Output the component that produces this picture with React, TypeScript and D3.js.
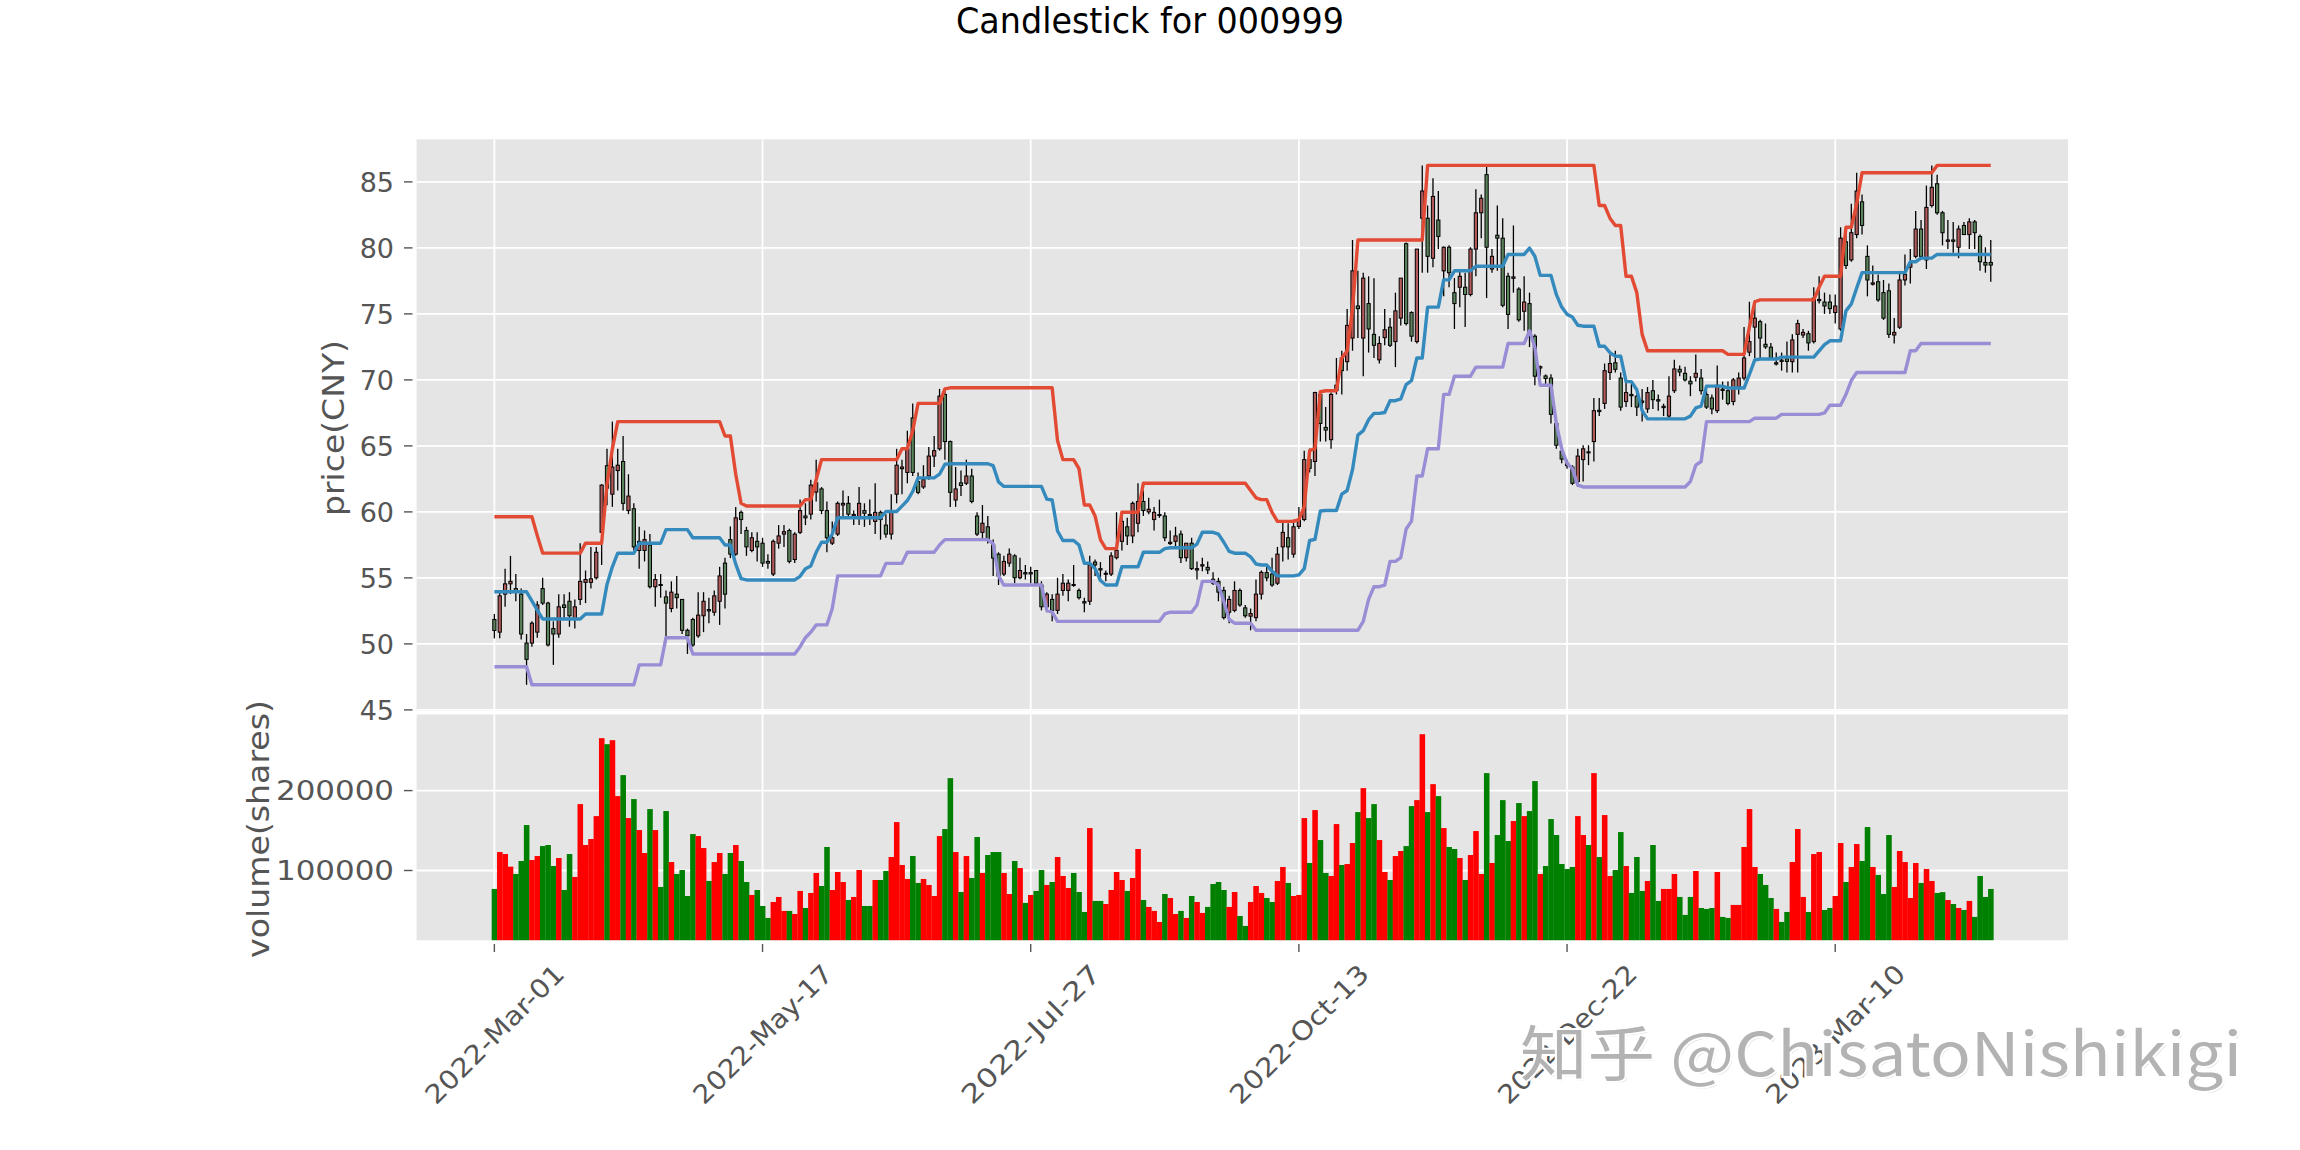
import React from 'react';
import * as d3 from 'd3';

const dateTickIndex = [0, 50, 100, 150, 200, 250];
const dateTickLabels = ['2022-Mar-01', '2022-May-17', '2022-Jul-27', '2022-Oct-13', '2022-Dec-22', '2023-Mar-10'];
const priceTicks = [45, 50, 55, 60, 65, 70, 75, 80, 85];
const volumeTicks = [100000, 200000];

const openPrice = [
  51.85,50.89,53.77,54.55,54.19,53.77,50.06,50.06,50.89,54.19,
  53.09,51.16,50.75,52.95,53.23,51.85,53.37,54.66,54.66,55.01,
  58.45,63.50,61.34,63.13,63.82,60.10,60.24,57.08,57.08,57.49,
  54.33,54.50,53.56,52.68,53.77,53.37,51.03,51.85,50.61,52.13,
  52.60,52.40,53.23,56.12,57.90,56.80,59.97,58.59,57.08,57.77,
  57.63,56.25,55.29,57.63,58.32,58.59,56.39,58.45,59.69,59.83,
  61.50,61.74,60.10,57.63,58.32,60.52,60.65,59.70,59.55,60.10,
  59.80,59.28,59.97,59.00,58.32,61.34,63.27,62.99,67.12,62.30,
  61.89,62.72,64.23,64.78,68.90,65.33,60.90,62.20,62.17,62.72,
  59.69,58.45,58.87,57.50,56.80,55.29,56.12,56.67,55.01,55.40,
  55.30,55.56,54.46,52.81,53.37,52.54,54.05,54.05,54.50,54.05,
  53.20,53.23,56.20,55.70,55.30,55.29,56.53,57.77,58.87,58.18,
  59.14,60.79,60.00,59.42,59.75,59.69,57.60,57.77,58.32,56.53,
  57.63,55.60,55.90,55.80,54.90,54.74,54.05,52.40,52.54,54.05,
  52.73,52.10,51.99,53.77,55.40,55.29,54.60,57.35,58.04,56.80,
  58.90,59.42,63.96,63.82,68.90,66.40,65.47,69.20,71.66,71.38,
  73.17,75.60,73.17,75.78,73.45,71.52,73.20,73.99,72.90,74.68,
  80.32,75.10,72.90,82.25,82.25,79.22,82.11,78.26,80.05,76.61,
  77.02,77.02,76.47,79.91,82.66,85.55,78.40,80.96,80.74,77.85,
  77.70,76.88,75.20,75.78,73.31,70.90,70.30,70.14,66.70,64.60,
  63.70,63.40,62.30,63.96,64.55,65.33,67.70,68.22,70.56,71.30,
  70.14,68.36,68.90,68.77,68.40,67.80,69.18,68.50,67.90,67.26,
  69.18,70.80,70.50,69.90,70.20,70.14,68.90,68.63,67.67,69.30,
  69.18,68.36,69.46,70.14,72.10,74.00,74.41,72.70,72.48,71.20,
  71.50,71.60,71.38,73.45,73.40,73.50,72.90,76.00,75.90,75.90,
  75.10,73.86,80.46,79.09,81.01,83.49,79.36,77.25,77.44,76.61,
  76.75,73.40,73.99,77.57,78.54,79.36,81.43,79.09,83.21,84.86,
  82.66,80.50,80.60,80.05,81.70,81.01,81.97,80.87,78.90,78.90
];

const highPrice = [
  52.27,54.05,55.70,56.67,55.29,54.19,50.75,51.71,53.23,55.01,
  53.20,51.71,53.77,53.77,53.92,53.37,57.63,55.56,57.35,57.35,
  62.10,64.78,66.84,64.78,65.75,62.85,60.65,58.87,58.59,58.32,
  55.29,55.29,54.05,54.74,55.15,53.40,51.16,51.99,53.92,53.92,
  53.50,54.05,55.84,56.53,58.90,60.38,60.10,58.87,58.45,58.45,
  58.04,56.80,57.90,59.00,59.00,58.73,58.45,60.93,60.65,62.44,
  63.96,61.88,60.79,59.28,60.79,61.62,61.20,60.10,61.89,60.65,
  60.93,62.17,60.10,59.83,61.34,64.78,63.96,66.15,68.22,62.99,
  63.54,64.92,65.75,69.32,69.40,65.40,63.40,63.13,63.96,63.27,
  59.97,60.52,59.69,57.90,56.94,56.67,57.22,56.80,56.53,55.98,
  55.84,55.60,54.74,53.92,53.77,55.01,55.29,54.88,55.98,54.19,
  53.50,56.67,56.39,56.20,55.56,56.94,59.97,59.97,59.55,60.79,
  62.17,61.62,61.07,60.38,60.93,59.97,58.59,58.87,58.59,57.63,
  58.04,56.25,56.53,56.25,55.42,55.01,54.33,53.64,54.74,54.19,
  52.95,52.68,54.88,55.56,55.84,56.53,57.35,59.28,59.14,59.42,
  60.38,64.64,64.80,69.10,69.18,67.94,69.04,71.66,72.21,75.37,
  80.60,78.26,78.12,77.85,77.71,73.31,75.37,74.68,76.61,77.71,
  80.40,75.20,79.91,86.25,83.21,85.27,84.31,80.10,80.20,77.71,
  78.26,78.12,80.05,84.45,84.04,86.20,79.91,83.21,82.25,78.12,
  81.70,77.02,77.85,76.61,73.45,71.10,70.42,70.42,67.26,65.05,
  63.96,63.54,64.78,65.05,65.05,68.63,68.63,71.24,71.93,72.21,
  70.56,69.87,69.73,69.32,69.32,69.46,70.00,68.90,68.20,70.28,
  71.52,71.10,71.00,70.28,71.93,70.83,69.18,68.90,71.10,69.87,
  69.87,70.14,70.56,74.00,75.92,76.06,74.55,74.27,72.80,72.07,
  72.07,72.90,73.45,74.55,73.86,73.72,77.02,77.85,76.61,76.47,
  76.47,81.56,81.29,83.35,85.69,84.04,80.19,78.67,77.99,77.57,
  77.30,74.68,78.26,79.50,79.91,82.80,82.11,84.72,86.25,85.55,
  82.80,82.11,81.97,81.70,81.97,82.25,82.11,81.01,80.05,80.60
];

const lowPrice = [
  50.42,50.42,52.81,53.77,53.23,50.34,46.90,49.79,50.47,52.95,
  49.80,48.41,50.47,51.85,51.30,51.16,52.95,53.09,54.19,54.88,
  55.98,60.50,60.38,61.62,60.10,59.83,57.08,55.70,56.25,54.19,
  52.81,53.50,50.47,52.40,52.68,50.75,49.24,49.79,50.47,50.89,
  51.57,52.13,51.44,52.68,56.50,56.67,58.32,56.67,56.94,56.25,
  55.84,55.70,55.15,57.22,57.35,56.10,56.12,58.32,59.00,59.42,
  60.79,59.83,56.94,57.49,58.18,59.69,59.69,59.00,59.00,58.87,
  59.00,58.32,57.90,58.04,57.90,60.65,61.34,62.17,62.72,61.34,
  61.75,62.44,63.40,64.64,63.96,60.38,60.38,61.20,62.03,60.65,
  58.18,57.90,57.60,55.15,54.46,55.15,55.84,54.60,54.90,54.88,
  54.60,54.50,52.54,52.40,51.71,52.27,53.64,53.23,54.33,53.37,
  52.40,52.95,55.15,54.90,54.74,55.15,56.40,57.08,57.49,57.63,
  58.45,59.69,59.83,58.59,59.55,57.77,57.49,57.40,56.12,56.25,
  55.60,54.88,55.50,55.29,54.46,53.23,51.85,51.57,52.40,52.81,
  51.99,51.03,51.71,53.37,54.74,54.33,54.46,56.25,56.39,56.53,
  58.70,59.30,62.99,62.72,65.33,65.33,64.78,68.90,68.90,70.70,
  72.21,73.17,70.28,72.07,71.66,71.24,72.62,72.50,70.97,74.13,
  74.13,72.90,72.76,78.12,78.12,78.54,79.91,76.33,77.02,73.86,
  75.51,74.00,76.33,77.85,80.74,76.20,78.12,78.26,75.51,73.86,
  76.61,74.41,73.72,72.48,69.59,70.28,69.59,66.70,64.78,63.68,
  63.27,62.03,61.89,62.30,63.54,63.82,67.26,67.80,70.00,70.56,
  67.67,67.94,67.94,67.26,66.84,67.50,67.80,67.67,67.26,67.10,
  69.00,70.28,69.87,68.77,69.87,68.90,67.80,67.39,67.50,68.50,
  68.08,68.08,68.90,69.95,71.80,71.66,71.66,72.35,71.52,71.10,
  70.70,70.56,70.56,70.56,73.17,72.21,72.76,75.78,75.00,75.00,
  74.27,73.72,78.40,78.95,80.74,81.01,76.33,77.15,75.92,74.55,
  73.17,72.76,73.86,77.15,77.30,79.22,79.22,78.40,83.07,82.52,
  80.19,79.91,79.64,79.22,81.01,79.91,79.91,78.26,78.12,77.44
];

const closePrice = [
  51.02,53.64,54.55,54.74,53.92,50.75,48.83,51.57,52.95,53.09,
  49.92,50.75,52.81,52.76,52.13,52.81,54.74,54.88,54.93,56.94,
  62.03,61.80,63.40,63.54,60.65,61.20,57.35,57.77,57.90,54.33,
  54.88,54.45,53.09,53.92,53.50,51.03,50.61,49.92,52.18,53.23,
  52.50,53.64,55.15,53.77,56.80,59.55,59.42,57.35,58.04,57.35,
  56.12,56.12,57.77,58.18,58.50,56.25,58.32,60.10,59.55,62.03,
  62.20,60.10,58.04,58.04,60.65,60.65,59.83,59.80,60.65,59.90,
  59.70,59.97,59.42,58.32,59.97,63.54,63.40,64.78,62.99,61.48,
  62.44,64.23,64.64,68.77,65.33,61.48,61.74,62.00,62.72,60.79,
  58.32,59.14,57.90,56.50,55.15,56.25,56.80,55.01,55.56,55.30,
  55.40,54.60,52.81,53.77,52.54,53.77,54.60,54.60,54.45,53.50,
  53.10,55.98,55.98,55.60,55.35,56.67,57.08,59.28,58.18,60.65,
  60.79,60.10,60.20,59.97,59.80,58.04,57.70,58.18,56.53,57.63,
  55.70,55.70,56.00,55.60,54.60,53.92,51.99,53.37,54.05,52.95,
  52.13,52.30,53.77,55.42,55.00,54.46,56.80,58.45,57.35,58.87,
  59.40,63.96,63.30,69.04,66.70,66.20,68.90,69.60,70.70,74.13,
  78.26,75.40,77.71,73.86,72.62,72.76,73.80,72.62,75.23,77.71,
  74.27,73.31,79.91,84.31,79.36,83.90,80.87,80.05,78.12,75.78,
  77.85,76.47,79.91,82.66,83.76,80.05,79.36,80.74,75.65,74.96,
  77.80,74.55,75.90,73.58,70.28,71.00,70.10,67.39,65.05,64.00,
  63.50,62.17,64.23,64.78,64.50,67.67,67.60,70.70,71.24,70.80,
  67.94,69.04,68.80,67.94,68.30,69.04,68.50,68.40,68.00,68.77,
  70.83,70.60,70.00,69.70,70.50,69.18,67.94,67.80,69.59,69.20,
  68.22,70.00,70.14,71.66,72.90,74.68,73.17,72.50,71.66,71.30,
  71.40,71.40,73.03,74.27,73.60,72.80,76.20,76.10,75.60,75.40,
  75.60,80.74,78.67,81.15,84.31,81.70,77.57,77.35,76.06,74.68,
  73.45,73.60,77.57,77.99,78.81,81.43,79.36,83.07,84.59,82.66,
  81.15,80.60,80.50,81.43,81.01,81.97,81.15,78.95,78.70,78.70
];

const volumeShares = [
  76900,123100,120600,104800,95600,111900,156900,113100,118100,130600,
  131900,105600,115600,75600,120600,91900,183100,131900,139400,168100,
  265600,258100,263100,193100,219400,165600,189400,150600,121900,176900,
  150600,79400,174400,110600,95600,100600,68100,145600,143100,128100,
  86900,110600,121900,95600,121900,131900,111900,85600,69400,75600,
  55600,40600,60600,66900,49400,49400,45600,74400,53100,71900,
  96900,80600,129400,75600,98100,85600,63100,66900,100600,55600,
  55600,88100,88100,99400,116900,160600,106900,89400,118100,84400,
  89400,81900,68100,143100,151900,215600,123100,73100,118100,90600,
  141900,96900,119400,123100,123100,96900,70600,111900,103100,59400,
  69400,74400,100600,81900,85600,116900,93100,78100,96900,73100,
  48100,153100,61900,61900,58100,75600,98100,88100,74400,90600,
  126900,63100,54400,49400,35600,70600,65600,45600,49400,40600,
  68100,60600,46900,54400,83100,85600,75600,54400,73100,43100,
  30600,60600,80600,71900,65600,60600,86900,104400,84400,68100,
  69400,165600,109400,175600,138100,96900,93100,158100,106900,108100,
  134400,173100,203100,165600,183100,138100,98100,88100,118100,124400,
  130600,180600,188100,270600,173100,208100,193100,153100,129400,126900,
  115600,88100,119400,149400,95600,221900,109400,144400,188100,136900,
  161900,184400,168100,174400,211900,95600,105600,164400,144400,108100,
  101900,104400,168100,144400,131900,221900,116900,169400,93100,100600,
  148100,105600,71900,116900,74400,86900,131900,61900,76900,76900,
  95600,66900,44400,66900,99400,53100,51900,53100,98100,41900,
  40600,56900,56900,129400,176900,104400,95600,81900,65600,51900,
  35600,48100,110600,151900,66900,48100,120600,123100,50600,53100,
  68100,134400,85600,104400,133100,111900,154400,104400,94400,70600,
  144400,79400,124400,110600,65600,109400,84400,101900,86900,71900,
  72900,63100,58100,53100,50600,61900,41900,93100,66900,76900
];

const upperBand = [
  59.63,59.63,59.63,59.63,59.63,59.63,59.63,59.63,58.20,56.88,
  56.88,56.88,56.88,56.88,56.88,56.88,56.88,57.63,57.63,57.63,
  57.63,62.10,64.78,66.84,66.84,66.84,66.84,66.84,66.84,66.84,
  66.84,66.84,66.84,66.84,66.84,66.84,66.84,66.84,66.84,66.84,
  66.84,66.84,66.84,65.75,65.75,62.85,60.65,60.45,60.45,60.45,
  60.45,60.45,60.45,60.45,60.45,60.45,60.45,60.45,60.93,60.93,
  62.44,63.96,63.96,63.96,63.96,63.96,63.96,63.96,63.96,63.96,
  63.96,63.96,63.96,63.96,63.96,63.96,64.78,64.78,66.15,68.22,
  68.22,68.22,68.22,68.22,69.32,69.40,69.40,69.40,69.40,69.40,
  69.40,69.40,69.40,69.40,69.40,69.40,69.40,69.40,69.40,69.40,
  69.40,69.40,69.40,69.40,69.40,65.40,63.96,63.96,63.96,63.27,
  60.52,60.52,59.69,57.90,57.22,57.22,57.22,59.97,59.97,59.97,
  59.97,62.17,62.17,62.17,62.17,62.17,62.17,62.17,62.17,62.17,
  62.17,62.17,62.17,62.17,62.17,62.17,62.17,62.17,62.17,62.17,
  62.17,61.62,61.07,60.93,60.93,59.97,59.28,59.28,59.28,59.28,
  59.42,60.38,64.64,64.80,69.10,69.18,69.18,69.18,71.66,72.21,
  75.37,80.60,80.60,80.60,80.60,80.60,80.60,80.60,80.60,80.60,
  80.60,80.60,80.60,80.60,86.25,86.25,86.25,86.25,86.25,86.25,
  86.25,86.25,86.25,86.25,86.25,86.25,86.25,86.25,86.25,86.25,
  86.25,86.25,86.25,86.25,86.25,86.25,86.25,86.25,86.25,86.25,
  86.25,86.25,86.25,86.25,86.25,86.25,83.21,83.21,82.25,81.70,
  81.70,77.85,77.85,76.61,73.45,72.21,72.21,72.21,72.21,72.21,
  72.21,72.21,72.21,72.21,72.21,72.21,72.21,72.21,72.21,72.21,
  71.93,71.93,71.93,71.93,74.00,75.92,76.06,76.06,76.06,76.06,
  76.06,76.06,76.06,76.06,76.06,76.06,76.06,77.02,77.85,77.85,
  77.85,77.85,81.56,81.56,83.35,85.69,85.69,85.69,85.69,85.69,
  85.69,85.69,85.69,85.69,85.69,85.69,85.69,85.69,85.69,86.25,
  86.25,86.25,86.25,86.25,86.25,86.25,86.25,86.25,86.25,86.25
];

const lowerBand = [
  48.27,48.27,48.27,48.27,48.27,48.27,48.27,46.90,46.90,46.90,
  46.90,46.90,46.90,46.90,46.90,46.90,46.90,46.90,46.90,46.90,
  46.90,46.90,46.90,46.90,46.90,46.90,46.90,48.41,48.41,48.41,
  48.41,48.41,50.47,50.47,50.47,50.47,50.47,49.24,49.24,49.24,
  49.24,49.24,49.24,49.24,49.24,49.24,49.24,49.24,49.24,49.24,
  49.24,49.24,49.24,49.24,49.24,49.24,49.24,49.79,50.47,50.89,
  51.44,51.44,51.44,52.68,55.15,55.15,55.15,55.15,55.15,55.15,
  55.15,55.15,55.15,56.10,56.10,56.10,56.10,56.94,56.94,56.94,
  56.94,56.94,56.94,57.49,57.90,57.90,57.90,57.90,57.90,57.90,
  57.90,57.90,57.90,57.60,55.15,54.46,54.46,54.46,54.46,54.46,
  54.46,54.46,54.46,52.54,52.40,51.71,51.71,51.71,51.71,51.71,
  51.71,51.71,51.71,51.71,51.71,51.71,51.71,51.71,51.71,51.71,
  51.71,51.71,51.71,51.71,51.71,52.27,52.40,52.40,52.40,52.40,
  52.40,52.95,54.74,54.74,54.74,54.46,53.23,51.85,51.57,51.57,
  51.57,51.57,51.03,51.03,51.03,51.03,51.03,51.03,51.03,51.03,
  51.03,51.03,51.03,51.03,51.03,51.03,51.03,51.03,51.03,51.03,
  51.03,51.03,51.71,53.37,54.33,54.33,54.46,56.25,56.25,56.53,
  58.70,59.30,62.72,62.72,64.78,64.78,64.78,68.90,68.90,70.28,
  70.28,70.28,70.28,70.97,70.97,70.97,70.97,70.97,70.97,72.76,
  72.76,72.76,72.76,73.72,72.48,69.59,69.59,69.59,66.70,64.78,
  63.68,63.27,62.03,61.89,61.89,61.89,61.89,61.89,61.89,61.89,
  61.89,61.89,61.89,61.89,61.89,61.89,61.89,61.89,61.89,61.89,
  61.89,61.89,61.89,62.30,63.54,63.82,66.84,66.84,66.84,66.84,
  66.84,66.84,66.84,66.84,66.84,67.10,67.10,67.10,67.10,67.10,
  67.39,67.39,67.39,67.39,67.39,67.39,67.39,67.39,67.50,68.08,
  68.08,68.08,68.90,69.95,70.56,70.56,70.56,70.56,70.56,70.56,
  70.56,70.56,70.56,70.56,72.21,72.21,72.76,72.76,72.76,72.76,
  72.76,72.76,72.76,72.76,72.76,72.76,72.76,72.76,72.76,72.76
];

const FONT = '"DejaVu Sans", Verdana, sans-serif';
const TICK_COLOR = '#555555';
const PANEL_BG = '#E5E5E5';
const UP_BODY = '#b15a5a';
const DOWN_BODY = '#5b835b';
const UP_VOL = '#ff0000';
const DOWN_VOL = '#008000';
const UPPER_COLOR = '#E24A33';
const MIDDLE_COLOR = '#348ABD';
const LOWER_COLOR = '#988ED5';

export default function App() {
  const W = 2300, H = 1150;
  const left = 416.6, right = 2068;
  const pTop = 139.3, pBot = 711;
  const vTop = 714.5, vBot = 940.2;

  const n = closePrice.length;
  const idx = d3.range(n);
  const x = d3.scaleLinear().domain([-14.5, 293.4]).range([left, right]);
  const yP = d3.scaleLinear().domain([45, 85]).range([709.9, 181.9]);
  const yV = d3.scaleLinear().domain([0, 200000]).range([950.4, 790.6]);
  const step = x(1) - x(0);
  const bodyW = step * 0.6;

  const middleBand = upperBand.map((u, i) => (u + lowerBand[i]) / 2);
  const line = d3.line<number>().x((_, i) => x(i)).y((d) => yP(d));

  return (
    <svg width={W} height={H} style={{ position: 'absolute', left: 0, top: 0 }} xmlns="http://www.w3.org/2000/svg">
      <rect x={0} y={0} width={W} height={H} fill="#ffffff" />
      <text x={1150} y={33} textAnchor="middle" fontFamily={FONT} fontSize={35} fill="#000"
        textLength={388} lengthAdjust="spacingAndGlyphs">Candlestick for 000999</text>

      {/* panels */}
      <rect x={left} y={pTop} width={right - left} height={pBot - pTop} fill={PANEL_BG} />
      <rect x={left} y={vTop} width={right - left} height={vBot - vTop} fill={PANEL_BG} />

      {/* grid */}
      {priceTicks.map((t) => (
        <line key={'pg' + t} x1={left} x2={right} y1={yP(t)} y2={yP(t)} stroke="#fff" strokeWidth={1.8} />
      ))}
      {volumeTicks.map((t) => (
        <line key={'vg' + t} x1={left} x2={right} y1={yV(t)} y2={yV(t)} stroke="#fff" strokeWidth={1.8} />
      ))}
      {dateTickIndex.map((t) => (
        <g key={'xg' + t}>
          <line x1={x(t)} x2={x(t)} y1={pTop} y2={pBot} stroke="#fff" strokeWidth={1.8} />
          <line x1={x(t)} x2={x(t)} y1={vTop} y2={vBot} stroke="#fff" strokeWidth={1.8} />
        </g>
      ))}

      {/* candles */}
      {idx.map((i) => {
        const o = openPrice[i], c = closePrice[i];
        const up = c >= o;
        const top = yP(Math.max(o, c));
        const bot = yP(Math.min(o, c));
        return (
          <g key={'c' + i}>
            <line x1={x(i)} x2={x(i)} y1={yP(highPrice[i])} y2={yP(lowPrice[i])} stroke="#000" strokeWidth={1.3} />
            <rect x={x(i) - bodyW / 2} y={top} width={bodyW} height={Math.max(bot - top, 1)}
              fill={up ? UP_BODY : DOWN_BODY} stroke="#000" strokeWidth={1} />
          </g>
        );
      })}

      {/* Donchian channel */}
      <path d={line(upperBand) || ''} fill="none" stroke={UPPER_COLOR} strokeWidth={3.4} strokeLinejoin="round" />
      <path d={line(middleBand) || ''} fill="none" stroke={MIDDLE_COLOR} strokeWidth={3.4} strokeLinejoin="round" />
      <path d={line(lowerBand) || ''} fill="none" stroke={LOWER_COLOR} strokeWidth={3.4} strokeLinejoin="round" />

      {/* volume */}
      {idx.map((i) => {
        const up = closePrice[i] >= openPrice[i];
        const yTop = yV(volumeShares[i]);
        return (
          <rect key={'v' + i} x={x(i) - step / 2} y={yTop} width={step + 0.2} height={vBot - yTop}
            fill={up ? UP_VOL : DOWN_VOL} />
        );
      })}

      {/* y axis ticks */}
      {priceTicks.map((t) => (
        <g key={'pt' + t}>
          <line x1={404} x2={412.5} y1={yP(t)} y2={yP(t)} stroke={TICK_COLOR} strokeWidth={1.4} />
          <text x={394} y={yP(t)} dy="0.36em" textAnchor="end" fontFamily={FONT} fontSize={27} fill={TICK_COLOR}>{t}</text>
        </g>
      ))}
      {volumeTicks.map((t) => (
        <g key={'vt' + t}>
          <line x1={404} x2={412.5} y1={yV(t)} y2={yV(t)} stroke={TICK_COLOR} strokeWidth={1.4} />
          <text x={394} y={yV(t)} dy="0.36em" textAnchor="end" fontFamily={FONT} fontSize={27} fill={TICK_COLOR}
            textLength={118} lengthAdjust="spacingAndGlyphs">{t}</text>
        </g>
      ))}

      {/* x axis ticks */}
      {dateTickIndex.map((t, k) => (
        <g key={'xt' + t}>
          <line x1={x(t)} x2={x(t)} y1={944} y2={952} stroke={TICK_COLOR} strokeWidth={1.4} />
          <text transform={`translate(${x(t)},${1034}) rotate(-45)`} textAnchor="middle" dy="0.36em"
            fontFamily={FONT} fontSize={26} fill={TICK_COLOR} textLength={184} lengthAdjust="spacingAndGlyphs">
            {dateTickLabels[k]}
          </text>
        </g>
      ))}

      {/* axis labels */}
      <text transform="translate(333,428) rotate(-90)" textAnchor="middle" dy="0.36em" fontFamily={FONT}
        fontSize={31} fill={TICK_COLOR} textLength={176} lengthAdjust="spacingAndGlyphs">price(CNY)</text>
      <text transform="translate(258,829) rotate(-90)" textAnchor="middle" dy="0.36em" fontFamily={FONT}
        fontSize={31} fill={TICK_COLOR} textLength={258} lengthAdjust="spacingAndGlyphs">volume(shares)</text>

      {/* watermark */}
      <text x={1522} y={1078} fontFamily='"Noto Sans CJK SC", "Noto Sans", sans-serif' fontSize={60}
        fill="#9a9a9a" opacity={0.35} textLength={722} lengthAdjust="spacingAndGlyphs">知乎 @ChisatoNishikigi</text>
      <text x={1520} y={1076} fontFamily='"Noto Sans CJK SC", "Noto Sans", sans-serif' fontSize={60}
        fill="#b3b3b3" stroke="#ffffff" strokeWidth={4} paintOrder="stroke"
        textLength={722} lengthAdjust="spacingAndGlyphs">知乎 @ChisatoNishikigi</text>
    </svg>
  );
}
